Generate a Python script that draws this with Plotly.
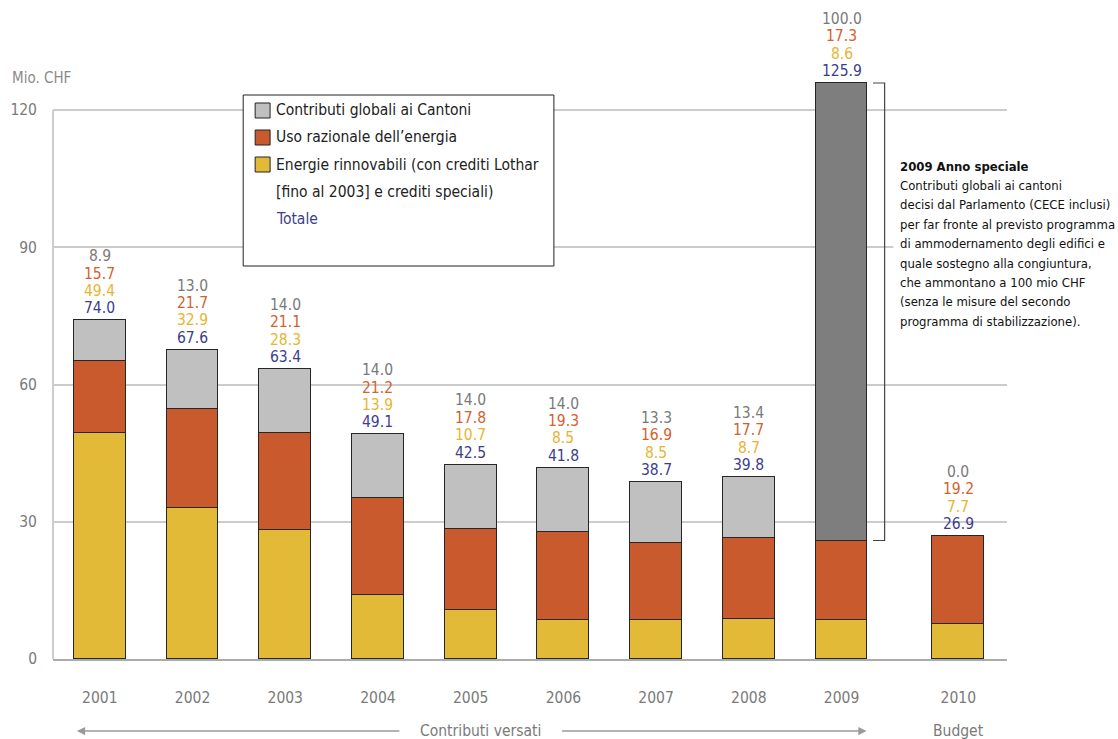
import plotly.graph_objects as go

# Federal energy programme contributions, Mio. CHF
years = ["2001", "2002", "2003", "2004", "2005", "2006", "2007", "2008", "2009", "2010"]
contributi_globali = [8.9, 13.0, 14.0, 14.0, 14.0, 14.0, 13.3, 13.4, 100.0, 0.0]
uso_razionale = [15.7, 21.7, 21.1, 21.2, 17.8, 19.3, 16.9, 17.7, 17.3, 19.2]
energie_rinnovabili = [49.4, 32.9, 28.3, 13.9, 10.7, 8.5, 8.5, 8.7, 8.6, 7.7]
totale = [74.0, 67.6, 63.4, 49.1, 42.5, 41.8, 38.7, 39.8, 125.9, 26.9]
y_ticks = [0, 30, 60, 90, 120]

# category positions: the budget year sits a little apart from the paid years
xpos = [0, 1, 2, 3, 4, 5, 6, 7, 8, 9.26]

FONT = "DejaVu Sans Condensed, sans-serif"
C_GRAY, C_GRAY_DARK = "#c0c0c0", "#7e7e7e"
C_ORANGE, C_YELLOW = "#c95a2e", "#e3b938"
T_GRAY, T_ORANGE, T_YELLOW, T_BLUE = "#7a7a7a", "#d4602f", "#e8b430", "#3c3e8c"
OUTLINE = dict(color="#262626", width=1.2)

W, H = 1118, 739
L, R, T, B = 49, 111, 10, 80
PW, PH = W - L - R, H - T - B


def px_x(px):
    return (px - L) / PW


def px_y(py):
    return (H - B - py) / PH


fig = go.Figure()
fig.add_bar(x=xpos, y=energie_rinnovabili, width=0.56,
            marker=dict(color=C_YELLOW, line=OUTLINE), name="Energie rinnovabili")
fig.add_bar(x=xpos, y=uso_razionale, width=0.56,
            marker=dict(color=C_ORANGE, line=OUTLINE), name="Uso razionale")
gray_cols = [C_GRAY_DARK if y == "2009" else C_GRAY for y in years]
fig.add_bar(x=xpos, y=contributi_globali, width=0.56,
            marker=dict(color=gray_cols, line=OUTLINE), name="Contributi globali")

ann = []
# value labels stacked above every bar
for i, xp in enumerate(xpos):
    rows = [(totale[i], T_BLUE), (energie_rinnovabili[i], T_YELLOW),
            (uso_razionale[i], T_ORANGE), (contributi_globali[i], T_GRAY)]
    for k, (v, c) in enumerate(rows):
        ann.append(dict(x=xp, y=totale[i], xref="x", yref="y", text=f"{v:.1f}",
                        showarrow=False, yanchor="middle", yshift=12 + k * 17.4,
                        font=dict(family=FONT, size=15.5, color=c)))

# unit label
ann.append(dict(x=px_x(6), y=px_y(78), xref="paper", yref="paper", text="Mio. CHF",
                showarrow=False, xanchor="left", yanchor="middle",
                font=dict(family=FONT, size=15, color="#8a8a8a")))

# legend box
shapes = [dict(type="rect", xref="paper", yref="paper", layer="above",
               x0=px_x(240), x1=px_x(552), y0=px_y(266), y1=px_y(95),
               fillcolor="white", line=dict(color="#222222", width=1))]
legend_rows = [("Contributi globali ai Cantoni", C_GRAY, "#222222"),
               ("Uso razionale dell’energia", C_ORANGE, "#222222"),
               ("Energie rinnovabili (con crediti Lothar", C_YELLOW, "#222222"),
               ("[fino al 2003] e crediti speciali)", None, "#222222"),
               ("Totale", None, T_BLUE)]
for k, (txt, sw, tc) in enumerate(legend_rows):
    yc = 110.5 + k * 27
    if sw:
        shapes.append(dict(type="rect", xref="paper", yref="paper", layer="above",
                           x0=px_x(252), x1=px_x(267), y0=px_y(yc + 7.5), y1=px_y(yc - 7.5),
                           fillcolor=sw, line=dict(color="#222222", width=1)))
    ann.append(dict(x=px_x(271), y=px_y(yc), xref="paper", yref="paper", text=txt,
                    showarrow=False, xanchor="left", yanchor="middle",
                    font=dict(family=FONT, size=15.5, color=tc)))

# left axis line up to the top gridline
shapes.append(dict(type="line", xref="paper", yref="y", x0=0, x1=0, y0=0, y1=120,
                   line=dict(color="#bdbdbd", width=1.5), layer="below"))

# bracket marking the special 2009 contribution
shapes.append(dict(type="path", xref="x", yref="y",
                   path=f"M 8.34,{totale[8]} L 8.465,{totale[8]} L 8.465,{totale[8] - contributi_globali[8]} L 8.34,{totale[8] - contributi_globali[8]}",
                   line=dict(color="#444444", width=1.2)))

# note on 2009
shapes.append(dict(type="rect", xref="paper", yref="paper", layer="above",
                   x0=px_x(893), x1=px_x(1118), y0=px_y(352), y1=px_y(152),
                   fillcolor="white", line=dict(width=0)))
note = ["<b>2009 Anno speciale</b>",
        "Contributi globali ai cantoni",
        "decisi dal Parlamento (CECE inclusi)",
        "per far fronte al previsto programma",
        "di ammodernamento degli edifici e",
        "quale sostegno alla congiuntura,",
        "che ammontano a 100 mio CHF",
        "(senza le misure del secondo",
        "programma di stabilizzazione)."]
for k, line in enumerate(note):
    ann.append(dict(x=px_x(898), y=px_y(166 + k * 19.4), xref="paper", yref="paper",
                    text=line, showarrow=False, xanchor="left", yanchor="middle",
                    font=dict(family=FONT, size=13, color="#111111")))

# period indicators under the axis
y_arrow = px_y(731)
ann.append(dict(x=px_x(478), y=y_arrow, xref="paper", yref="paper", text="Contributi versati",
                showarrow=False, xanchor="center", yanchor="middle",
                font=dict(family=FONT, size=15.5, color="#7a7a7a")))
ann.append(dict(x=px_x(73), y=y_arrow, xref="paper", yref="paper", ax=397 - 73, ay=0,
                axref="pixel", ayref="pixel", text="", showarrow=True, arrowhead=2,
                arrowsize=1.1, arrowwidth=1.5, arrowcolor="#9a9a9a"))
ann.append(dict(x=px_x(866), y=y_arrow, xref="paper", yref="paper", ax=560 - 866, ay=0,
                axref="pixel", ayref="pixel", text="", showarrow=True, arrowhead=2,
                arrowsize=1.1, arrowwidth=1.5, arrowcolor="#9a9a9a"))
ann.append(dict(x=xpos[9], y=y_arrow, xref="x", yref="paper", text="Budget",
                showarrow=False, xanchor="center", yanchor="middle",
                font=dict(family=FONT, size=15.5, color="#7a7a7a")))

ymax = (H - B - T) / ((H - B - 110) / 120)
fig.update_layout(
    width=W, height=H, margin=dict(l=L, r=R, t=T, b=B),
    barmode="stack", bargap=0, showlegend=False,
    plot_bgcolor="white", paper_bgcolor="white",
    font=dict(family=FONT),
    annotations=ann, shapes=shapes,
    xaxis=dict(range=[-0.505, 9.785], tickvals=xpos, ticktext=years, ticks="",
               showgrid=False, zeroline=False, showline=True, linecolor="#ababab", linewidth=2,
               ticklabelstandoff=23, tickfont=dict(family=FONT, size=15.5, color="#7a7a7a")),
    yaxis=dict(range=[0, ymax], tickvals=y_ticks, ticks="", showgrid=True,
               gridcolor="#cccccc", gridwidth=1.5, zeroline=False, showline=False,
               ticklabelstandoff=15, tickfont=dict(family=FONT, size=15.5, color="#7a7a7a")),
)

fig.write_html("out.html")
